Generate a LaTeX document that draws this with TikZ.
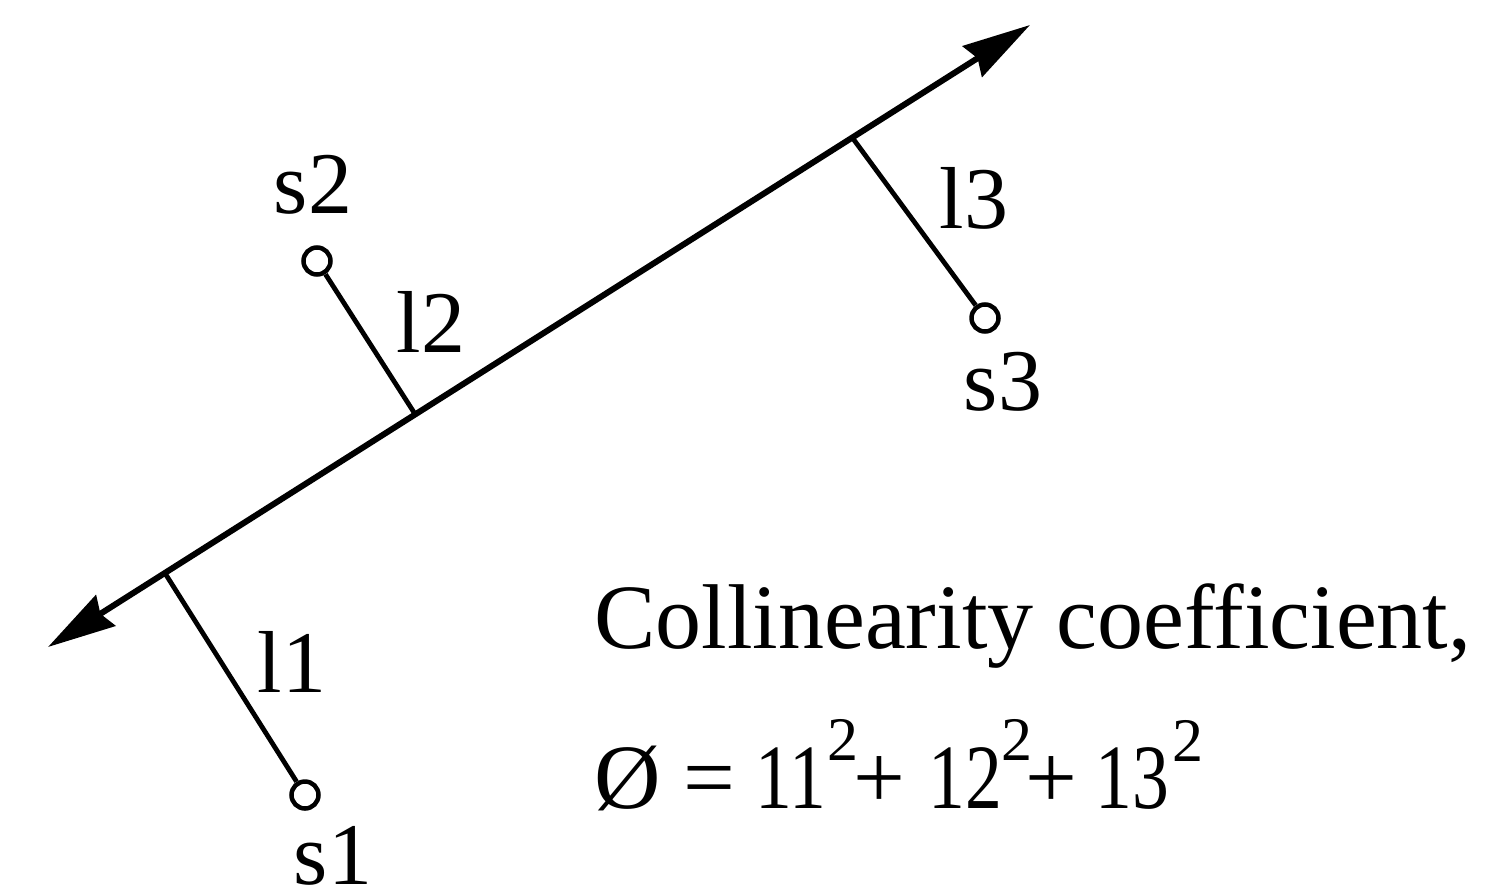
\documentclass[tikz,border=0pt]{standalone}
\usepackage{fontspec}
\usepackage{graphicx}
\setmainfont{Liberation Serif}
\usetikzlibrary{arrows.meta,calc}
\newcommand{\narrowdig}[1]{\scalebox{0.8}[1]{#1}}
\begin{document}
\begin{tikzpicture}[x=1pt,y=-1pt,
  axisline/.style={line width=6pt,
    {Stealth[length=68pt,width=36pt,inset=6pt]}-{Stealth[length=68pt,width=36pt,inset=6pt]}},
  perp/.style={line width=4.8pt},
  pt/.style={circle, draw, line width=4.5pt, minimum size=27pt, inner sep=0pt},
  lbl/.style={font=\fontsize{88}{88}\selectfont, anchor=base, inner sep=0pt},
  txt/.style={font=\fontsize{92}{92}\selectfont, anchor=base, inner sep=0pt},
  sup/.style={font=\fontsize{62}{62}\selectfont, anchor=base, inner sep=0pt}]
\useasboundingbox (0,0) rectangle (1485,892);
\fill[white] (0,0) rectangle (1485,892);

% main axis
\coordinate (A) at (48,647);
\coordinate (B) at (1030,25);
\draw[axisline] (A) -- (B);
\coordinate (f1) at ($(A)!0.119!(B)$);
\coordinate (f2) at ($(A)!0.374!(B)$);
\coordinate (f3) at ($(A)!0.819!(B)$);

% points
\node[pt] (s1) at (305,795) {};
\node[pt] (s2) at (317,261) {};
\node[pt] (s3) at (985,318) {};

% perpendiculars
\draw[perp] (f1) -- (s1);
\draw[perp] (f2) -- (s2);
\draw[perp] (f3) -- (s3);

% labels
\node[lbl] (ls1) at (333,884) {s1};
\node[lbl] (ls2) at (313,213) {s2};
\node[lbl] (ls3) at (1003,410) {s3};
\node[lbl] (ll1) at (292,692) {l1};
\node[lbl] (ll2) at (431,352) {l2};
\node[lbl] (ll3) at (974,228) {l3};

% text
\node[txt, anchor=base west] (title) at (594,648) {Collinearity coefficient,};
\node[txt] (phi) at (628,808) {Ø};
\node[txt] (eq) at (709,808) {=};
\node[txt] (t1) at (791,808) {\narrowdig{11}};
\node[sup] (p1) at (843,760) {2};
\node[txt] (plus1) at (879,808) {+};
\node[txt] (t2) at (965,808) {\narrowdig{12}};
\node[sup] (p2) at (1017,760) {2};
\node[txt] (plus2) at (1051,808) {+};
\node[txt] (t3) at (1132,808) {\narrowdig{13}};
\node[sup] (p3) at (1188,761) {2};
\end{tikzpicture}
\end{document}
